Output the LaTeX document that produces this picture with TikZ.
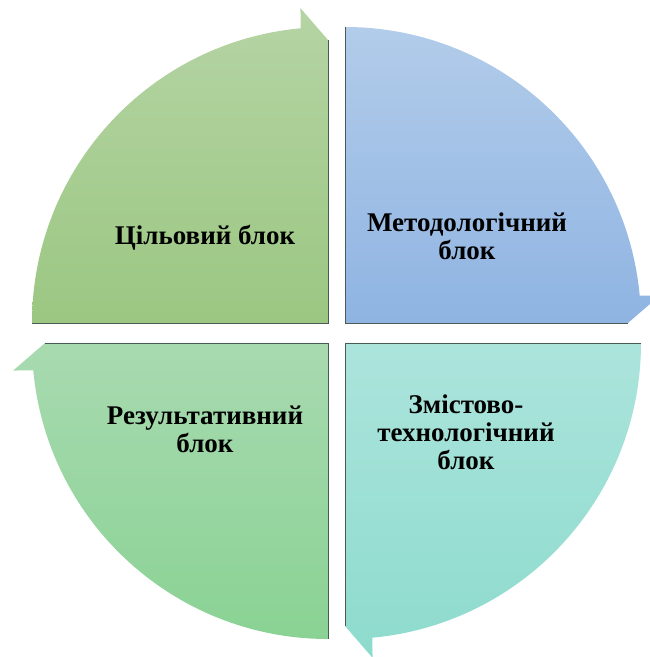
\documentclass[tikz,border=0pt]{standalone}
\usepackage{fontspec}
\setmainfont{Liberation Serif}
\usetikzlibrary{calc}
\definecolor{tlTop}{HTML}{B5D4A4}
\definecolor{tlBot}{HTML}{9BC782}
\definecolor{trTop}{HTML}{B2CCEA}
\definecolor{trBot}{HTML}{8FB4E2}
\definecolor{brTop}{HTML}{ACE4DC}
\definecolor{brBot}{HTML}{8DDBCD}
\definecolor{blTop}{HTML}{A8DAB0}
\definecolor{blBot}{HTML}{8AD294}
\definecolor{edgecolor}{HTML}{4A5A55}

\begin{document}
\begin{tikzpicture}[
    x=1pt, y=1pt,
    every node/.style={font=\fontsize{27}{28}\selectfont\bfseries},
    lbl/.style={align=center, inner sep=0pt, text=black},
    edge/.style={draw=edgecolor, line width=0.7pt},
]
\useasboundingbox (0,0) rectangle (650,657);
\clip (0,0) rectangle (650,657);

% ================================================================ quarters
\foreach \cx/\cy/\a/\ctop/\cbot in {328/334/180/tlTop/tlBot, 345/334/90/trTop/trBot,
                                    345/314/0/brTop/brBot, 328/314/270/blTop/blBot}{
  \coordinate (c) at (\cx,\cy);
  \shade[top color=\ctop, bottom color=\cbot]
    (c) -- ($(c)+(\a:296)$) arc[start angle=\a, end angle=\a-84.7, radius=296]
        -- ($(c)+(\a-85:316)$) -- ($(c)+(\a-90:283)$) -- cycle;
  \draw[edge] ($(c)+(\a-90:283)$) -- (c) -- ($(c)+(\a:296)$);
}

% ================================================================ labels
\node[lbl] (goal)    at (205,419) {Цільовий блок};
\node[lbl] (method)  at (467,421) {Методологічний\\ блок};
\node[lbl] (content) at (466,225) {Змістово-\\ технологічний\\ блок};
\node[lbl] (result)  at (205,228) {Результативний\\ блок};
\end{tikzpicture}
\end{document}
